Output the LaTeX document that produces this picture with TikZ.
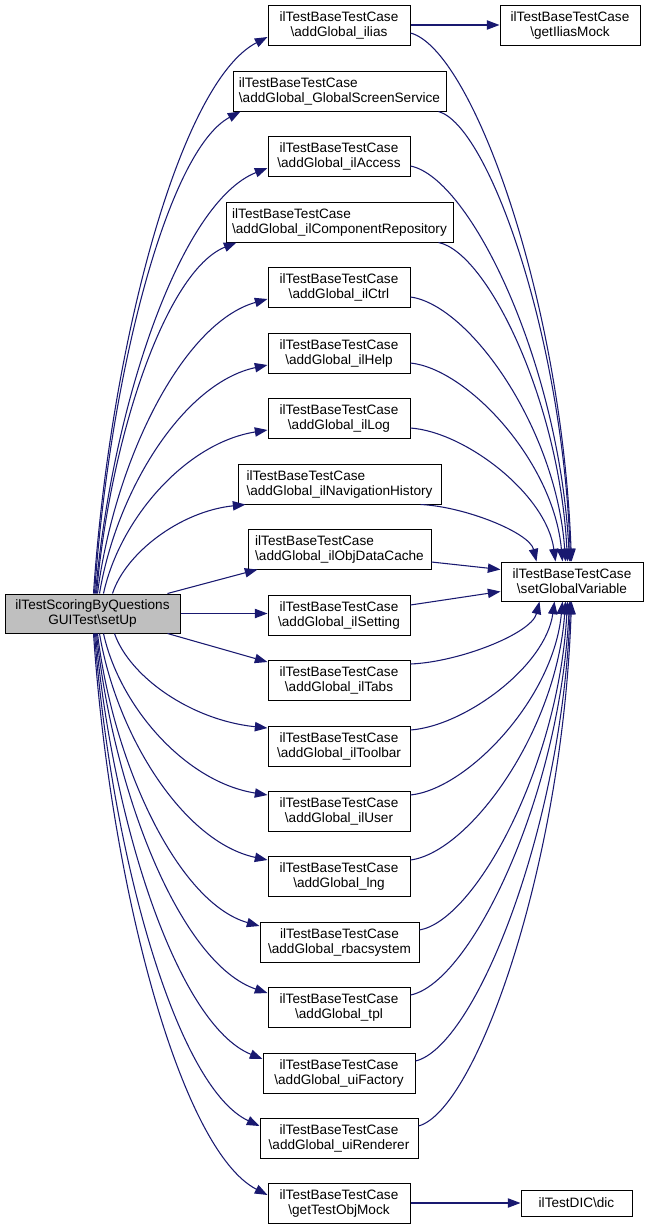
\documentclass[tikz,border=0pt]{standalone}
\usepackage{fontspec}
\setmainfont{Liberation Sans}
\usetikzlibrary{arrows.meta,calc}
\definecolor{edgeblue}{HTML}{191970}
\definecolor{mainfill}{HTML}{BFBFBF}
\begin{document}
\begin{tikzpicture}[x=0.75pt,y=-0.75pt,
  box/.style={draw=black,line width=0.75pt,fill=white,inner sep=0pt,minimum height=30pt,font=\fontsize{10.2}{11.25}\selectfont,align=center},
  mw/.style={minimum width=#1*0.75pt},
  lbox/.style={box,align=left},
  edg/.style={draw=edgeblue,line width=0.8pt,-{Triangle[length=9.5pt,width=7pt]}}]
\useasboundingbox (0,0) rectangle (648,1228);
% main
\node[box,fill=mainfill,mw=175,minimum height=29.25pt] (m) at (92.5,613.5) {ilTestScoringByQuestions\\GUITest\textbackslash setUp};
% middle column
\node[box,mw=142] (ilias) at (339,25) {ilTestBaseTestCase\\\textbackslash addGlobal\_ilias};
\node[lbox,mw=213] (gss) at (339.5,91) {ilTestBaseTestCase\\\textbackslash addGlobal\_GlobalScreenService};
\node[box,mw=142] (acc) at (339,156) {ilTestBaseTestCase\\\textbackslash addGlobal\_ilAccess};
\node[lbox,mw=227] (cr) at (339.5,222) {ilTestBaseTestCase\\\textbackslash addGlobal\_ilComponentRepository};
\node[box,mw=142] (ctrl) at (339,287) {ilTestBaseTestCase\\\textbackslash addGlobal\_ilCtrl};
\node[box,mw=142] (help) at (339,353) {ilTestBaseTestCase\\\textbackslash addGlobal\_ilHelp};
\node[box,mw=142] (log) at (339,418) {ilTestBaseTestCase\\\textbackslash addGlobal\_ilLog};
\node[lbox,mw=203] (nav) at (339.5,484) {ilTestBaseTestCase\\\textbackslash addGlobal\_ilNavigationHistory};
\node[lbox,mw=183] (odc) at (339.5,549) {ilTestBaseTestCase\\\textbackslash addGlobal\_ilObjDataCache};
\node[box,mw=142] (set) at (339,615) {ilTestBaseTestCase\\\textbackslash addGlobal\_ilSetting};
\node[box,mw=142] (tabs) at (339,680) {ilTestBaseTestCase\\\textbackslash addGlobal\_ilTabs};
\node[box,mw=142] (tb) at (339,746) {ilTestBaseTestCase\\\textbackslash addGlobal\_ilToolbar};
\node[box,mw=142] (user) at (339,811) {ilTestBaseTestCase\\\textbackslash addGlobal\_ilUser};
\node[box,mw=142] (lng) at (339,876) {ilTestBaseTestCase\\\textbackslash addGlobal\_lng};
\node[box,mw=159] (rbac) at (339.5,942) {ilTestBaseTestCase\\\textbackslash addGlobal\_rbacsystem};
\node[box,mw=142] (tpl) at (339,1007) {ilTestBaseTestCase\\\textbackslash addGlobal\_tpl};
\node[box,mw=152] (uif) at (339,1073) {ilTestBaseTestCase\\\textbackslash addGlobal\_uiFactory};
\node[box,mw=158] (uir) at (339,1138) {ilTestBaseTestCase\\\textbackslash addGlobal\_uiRenderer};
\node[box,mw=142] (gtom) at (339,1203) {ilTestBaseTestCase\\\textbackslash getTestObjMock};
% right column
\node[box,mw=140] (gim) at (570,25) {ilTestBaseTestCase\\\textbackslash getIliasMock};
\node[box,mw=142,minimum height=29.25pt] (sgv) at (572,581.5) {ilTestBaseTestCase\\\textbackslash setGlobalVariable};
\node[box,mw=111,minimum height=19.5pt] (dic) at (576.5,1203) {ilTestDIC\textbackslash dic};

% main -> upper
\draw[edg] ($(m.north west)+(89,0)$) .. controls +(17,-251) and +(-87,45) .. ($(ilias.west)+(0,12)$);
\draw[edg] ($(m.north west)+(90,0)$) .. controls +(15,-217) and +(-73,39) .. ($(gss.south west)+(8,0)$);
\draw[edg] ($(m.north west)+(91,0)$) .. controls +(17,-192) and +(-86,34) .. ($(acc.west)+(0,12)$);
\draw[edg] ($(m.north west)+(92,0)$) .. controls +(14,-158) and +(-70,28) .. ($(cr.south west)+(11,0)$);
\draw[edg] ($(m.north west)+(93,0)$) .. controls +(17,-133) and +(-85,24) .. ($(ctrl.west)+(0,12)$);
\draw[edg] ($(m.north west)+(95,0)$) .. controls +(17,-103) and +(-84,18) .. ($(help.west)+(0,12)$);
\draw[edg] ($(m.north west)+(99,0)$) .. controls +(16,-74) and +(-82,13) .. ($(log.west)+(0,12)$);
\draw[edg] ($(m.north west)+(108,0)$) .. controls +(13,-40) and +(-66,7) .. ($(nav.south west)+(8,0)$);
\draw[edg] ($(m.north west)+(163,0)$) -- ($(odc.south west)+(10,0)$);
\draw[edg] (m.east) -- (m.east -| set.west);
% main -> lower
\draw[edg] ($(m.south west)+(163,0)$) -- ($(tabs.west)+(0,-18)$);
\draw[edg] ($(m.south west)+(110,0)$) .. controls +(15,43) and +(-77,-8) .. ($(tb.west)+(0,-18)$);
\draw[edg] ($(m.south west)+(99,0)$) .. controls +(16,73) and +(-82,-13) .. ($(user.west)+(0,-16)$);
\draw[edg] ($(m.south west)+(95,0)$) .. controls +(17,102) and +(-84,-18) .. ($(lng.west)+(0,-16)$);
\draw[edg] ($(m.south west)+(93,0)$) .. controls +(16,132) and +(-81,-23) .. ($(rbac.west)+(0,-16)$);
\draw[edg] ($(m.south west)+(92,0)$) .. controls +(17,162) and +(-86,-29) .. ($(tpl.west)+(0,-14)$);
\draw[edg] ($(m.south west)+(91,0)$) .. controls +(17,192) and +(-84,-34) .. ($(uif.west)+(0,-14)$);
\draw[edg] ($(m.south west)+(90,0)$) .. controls +(17,222) and +(-83,-39) .. ($(uir.west)+(0,-12)$);
\draw[edg] ($(m.south west)+(89,0)$) .. controls +(17,253) and +(-87,-45) .. ($(gtom.west)+(0,-8)$);
% straight side edges
\draw[edg] (ilias.east) -- (gim.west);
\draw[edg] (gtom.east) -- (dic.west);
% upper -> setGlobalVariable
\draw[edg] ($(ilias.east)+(0,8)$) .. controls +(61,16) and +(-10,-265) .. ($(sgv.north west)+(71,0)$);
\draw[edg] ($(gss.south east)+(-8,0)$) .. controls +(50,14) and +(-8,-226) .. ($(sgv.north west)+(70,0)$);
\draw[edg] ($(acc.east)+(0,10)$) .. controls +(60,12) and +(-10,-198) .. ($(sgv.north west)+(69,0)$);
\draw[edg] ($(cr.south east)+(-15,0)$) .. controls +(49,10) and +(-8,-160) .. ($(sgv.north west)+(67,0)$);
\draw[edg] ($(ctrl.east)+(0,10)$) .. controls +(59,8) and +(-9,-133) .. ($(sgv.north west)+(65,0)$);
\draw[edg] ($(help.east)+(0,10)$) .. controls +(57,6) and +(-9,-100) .. ($(sgv.north west)+(62,0)$);
\draw[edg] ($(log.east)+(0,10)$) .. controls +(55,4) and +(-9,-67) .. ($(sgv.north west)+(55,0)$);
\draw[edg] ($(nav.south east)+(-21,0)$) .. controls +(44,2) and +(-7,-29) .. ($(sgv.north west)+(36,0)$);
\draw[edg] ($(odc.east)+(0,13)$) -- ($(sgv.west)+(0,-12)$);
\draw[edg] ($(set.east)+(0,-10)$) -- ($(sgv.west)+(0,10)$);
% lower -> setGlobalVariable
\draw[edg] ($(tabs.east)+(0,-16)$) .. controls +(49,-2) and +(-8,32) .. ($(sgv.south west)+(39,0)$);
\draw[edg] ($(tb.east)+(0,-16)$) .. controls +(54,-4) and +(-9,65) .. ($(sgv.south west)+(54,0)$);
\draw[edg] ($(user.east)+(0,-16)$) .. controls +(57,-6) and +(-9,97) .. ($(sgv.south west)+(62,0)$);
\draw[edg] ($(lng.east)+(0,-16)$) .. controls +(59,-8) and +(-9,130) .. ($(sgv.south west)+(65,0)$);
\draw[edg] ($(rbac.east)+(0,-12)$) .. controls +(56,-10) and +(-9,165) .. ($(sgv.south west)+(67,0)$);
\draw[edg] ($(tpl.east)+(0,-12)$) .. controls +(60,-12) and +(-10,197) .. ($(sgv.south west)+(69,0)$);
\draw[edg] ($(uif.east)+(0,-12)$) .. controls +(59,-14) and +(-9,230) .. ($(sgv.south west)+(70,0)$);
\draw[edg] ($(uir.east)+(0,-12)$) .. controls +(58,-16) and +(-9,263) .. ($(sgv.south west)+(71,0)$);
\end{tikzpicture}
\end{document}
